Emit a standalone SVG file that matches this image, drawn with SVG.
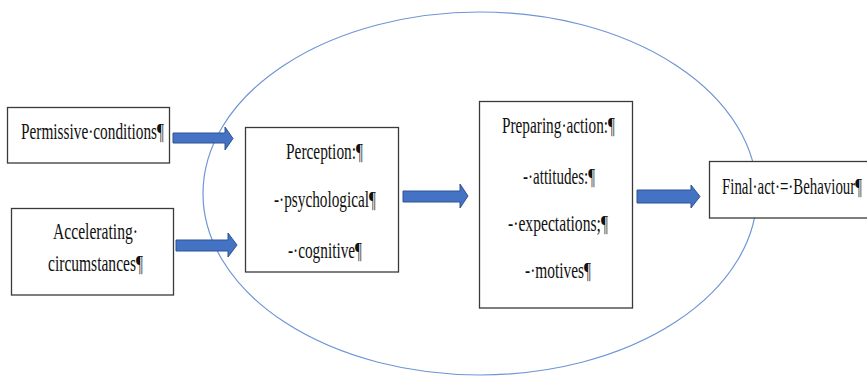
<svg xmlns="http://www.w3.org/2000/svg" width="867" height="377" viewBox="0 0 867 377">
<style>
.bg{fill:#ffffff}
.box{fill:#ffffff;stroke:#3a3a3a;stroke-width:1.3}
.scope{fill:none;stroke:#6f95d6;stroke-width:1.2}
.arrow{fill:#4472c4;stroke:#2f528f;stroke-width:1}
text{font-family:"Liberation Serif","Times New Roman",serif;font-size:23px;fill:#111111}
</style>
<rect class="bg" x="0" y="0" width="867" height="377"/>
<g id="scope">
<ellipse class="scope" cx="480" cy="193.5" rx="277" ry="181.5"/>
</g>
<g id="connectors">
<polygon class="arrow" points="173,133 225,133 225,127 233,138.5 225,150 225,143 173,143"/>
<polygon class="arrow" points="176,240 228,240 228,233 237,245 228,257 228,251 176,251"/>
<polygon class="arrow" points="403,191 460,191 460,184 468,196 460,208 460,202 403,202"/>
<polygon class="arrow" points="637,190 691,190 691,185 700,196.5 691,208 691,203 637,203"/>
</g>
<g id="permissive">
<rect class="box" x="7.5" y="107.5" width="162" height="55.5"/>
<text x="21" y="139" textLength="143" lengthAdjust="spacingAndGlyphs">Permissive·conditions¶</text>
</g>
<g id="accelerating">
<rect class="box" x="11.5" y="208.5" width="162" height="86.5"/>
<text x="53" y="239" textLength="85" lengthAdjust="spacingAndGlyphs">Accelerating·</text>
<text x="48" y="271" textLength="95" lengthAdjust="spacingAndGlyphs">circumstances¶</text>
</g>
<g id="perception">
<rect class="box" x="245.5" y="127.5" width="153" height="144.5"/>
<text x="286" y="159" textLength="77" lengthAdjust="spacingAndGlyphs">Perception:¶</text>
<text x="274" y="207" textLength="102" lengthAdjust="spacingAndGlyphs">-·psychological¶</text>
<text x="288" y="258" textLength="74" lengthAdjust="spacingAndGlyphs">-·cognitive¶</text>
</g>
<g id="preparing">
<rect class="box" x="479.5" y="101.5" width="153" height="206.5"/>
<text x="502" y="133" textLength="113" lengthAdjust="spacingAndGlyphs">Preparing·action:¶</text>
<text x="523" y="184" textLength="72" lengthAdjust="spacingAndGlyphs">-·attitudes:¶</text>
<text x="508" y="231" textLength="100" lengthAdjust="spacingAndGlyphs">-·expectations;¶</text>
<text x="525" y="278" textLength="66" lengthAdjust="spacingAndGlyphs">-·motives¶</text>
</g>
<g id="final">
<rect class="box" x="709.5" y="161.5" width="160" height="56.5"/>
<text x="722" y="194" textLength="140" lengthAdjust="spacingAndGlyphs">Final·act·=·Behaviour¶</text>
</g>
</svg>
